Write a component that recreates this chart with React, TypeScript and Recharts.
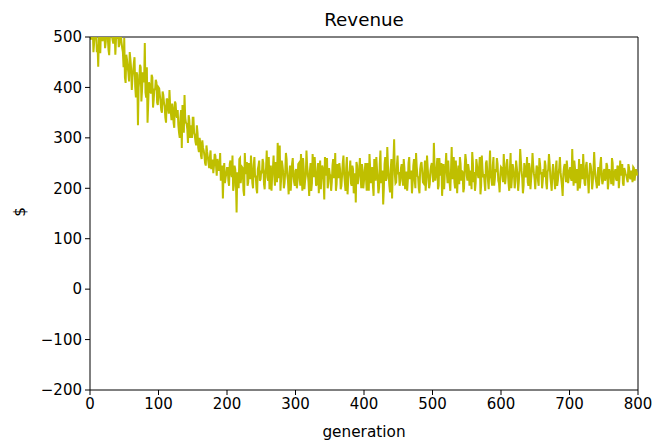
import React from 'react';
import { LineChart, Line, XAxis, YAxis, ReferenceLine } from 'recharts';

// Revenue at even generations (0, 2, 4, ... 798)
const even0to50 = [510, 495, 520, 488, 505, 470, 441, 500, 515, 492, 506, 478, 520, 498, 464, 510, 502, 487, 512, 496, 505, 480, 515, 490, 470, 498];
const even50to100 = [409, 455, 430, 470, 438, 420, 448, 402, 430, 325, 415, 440, 395, 420, 488, 380, 330, 410, 392, 425, 360, 398, 415, 370, 400];
const even100to150 = [385, 355, 392, 370, 340, 378, 360, 395, 350, 368, 330, 372, 345, 355, 310, 340, 280, 350, 385, 330, 318, 345, 300, 325, 340];
const even150to200 = [310, 292, 325, 280, 300, 265, 295, 275, 250, 285, 262, 240, 275, 255, 230, 268, 245, 258, 235, 270, 228, 180, 250, 222, 240];
const even200to250 = [215, 248, 230, 265, 205, 238, 152, 225, 258, 210, 242, 196, 270, 228, 205, 250, 218, 238, 200, 262, 225, 190, 245, 215, 235];
const even250to300 = [258, 208, 232, 275, 215, 198, 245, 228, 265, 205, 240, 290, 220, 195, 255, 232, 210, 270, 225, 188, 245, 218, 260, 212, 235];
const even300to350 = [200, 248, 222, 268, 195, 238, 215, 275, 228, 185, 250, 210, 242, 262, 205, 230, 190, 255, 222, 240, 178, 235, 260, 212, 228];
const even350to400 = [195, 245, 220, 270, 208, 232, 250, 198, 226, 265, 212, 240, 188, 230, 255, 205, 238, 218, 172, 245, 225, 260, 200, 235, 215];
const even400to450 = [250, 195, 228, 268, 210, 242, 185, 235, 262, 220, 200, 275, 230, 168, 248, 215, 282, 225, 192, 258, 237, 297, 210, 245, 228];
const even450to500 = [205, 240, 222, 258, 198, 233, 215, 262, 228, 190, 245, 218, 270, 225, 200, 238, 252, 212, 230, 195, 265, 222, 208, 245, 228];
const even500to550 = [290, 215, 240, 198, 260, 225, 185, 248, 232, 270, 210, 228, 195, 282, 238, 212, 255, 190, 245, 262, 215, 232, 200, 268, 225];
const even550to600 = [248, 205, 235, 272, 212, 195, 258, 228, 240, 188, 265, 222, 210, 250, 232, 198, 275, 218, 245, 205, 238, 260, 215, 192, 242];
const even600to650 = [225, 268, 208, 248, 232, 195, 270, 220, 240, 200, 255, 228, 212, 278, 235, 190, 250, 222, 262, 205, 240, 218, 270, 230, 198];
const even650to700 = [245, 215, 260, 228, 200, 238, 255, 210, 232, 268, 222, 195, 248, 215, 240, 205, 230, 262, 218, 185, 242, 225, 255, 210, 235];
const even700to750 = [220, 278, 205, 240, 228, 195, 258, 215, 235, 268, 210, 245, 225, 190, 250, 232, 212, 272, 220, 200, 242, 228, 262, 208, 235];
const even750to800 = [215, 250, 198, 238, 225, 260, 205, 232, 218, 245, 200, 255, 225, 210, 240, 228, 218, 248, 222, 235, 212, 240, 228, 232];

// Revenue at odd generations (1, 3, 5, ... 799)
const odd0to50 = [498, 515, 470, 505, 512, 485, 500, 468, 518, 495, 505, 490, 512, 475, 500, 520, 494, 508, 465, 498, 512, 485, 505, 478, 440];
const odd50to100 = [420, 465, 440, 412, 455, 395, 432, 460, 380, 425, 400, 445, 372, 430, 410, 390, 440, 368, 405, 388, 420, 375, 395, 410, 365];
const odd100to150 = [398, 372, 350, 385, 362, 330, 375, 348, 365, 335, 358, 320, 368, 340, 325, 300, 355, 365, 310, 340, 328, 290, 335, 312, 300];
const odd150to200 = [340, 305, 285, 310, 272, 290, 258, 280, 265, 245, 272, 250, 262, 238, 255, 245, 265, 225, 250, 240, 215, 245, 232, 210, 228];
const odd200to250 = [240, 205, 255, 222, 195, 245, 215, 232, 200, 260, 225, 240, 185, 235, 252, 212, 228, 265, 210, 245, 222, 200, 238, 255, 218];
const odd250to300 = [230, 250, 198, 240, 222, 262, 210, 195, 238, 225, 252, 212, 240, 285, 218, 245, 200, 232, 258, 215, 228, 195, 248, 225, 205];
const odd300to350 = [238, 215, 250, 205, 232, 260, 198, 225, 245, 212, 235, 195, 268, 222, 240, 208, 250, 230, 198, 245, 215, 262, 225, 200, 240];
const odd350to400 = [225, 212, 258, 232, 195, 248, 220, 238, 205, 250, 228, 195, 262, 218, 235, 210, 245, 190, 230, 252, 208, 235, 222, 248, 200];
const odd400to450 = [232, 218, 250, 195, 240, 225, 205, 258, 215, 238, 190, 248, 210, 235, 200, 262, 220, 245, 205, 238, 180, 255, 228, 212, 265];
const odd450to500 = [232, 215, 248, 205, 240, 225, 195, 250, 218, 235, 210, 258, 200, 242, 222, 190, 248, 232, 210, 255, 218, 240, 200, 235, 250];
const odd500to550 = [212, 245, 225, 260, 205, 238, 250, 215, 198, 242, 228, 255, 210, 235, 218, 262, 200, 232, 225, 208, 248, 235, 192, 240, 255];
const odd550to600 = [215, 238, 225, 198, 250, 232, 210, 245, 220, 262, 205, 238, 228, 195, 255, 215, 240, 225, 205, 262, 218, 232, 248, 210, 228];
const odd600to650 = [240, 212, 235, 222, 258, 210, 238, 200, 248, 225, 215, 242, 195, 235, 255, 220, 205, 240, 228, 212, 250, 198, 235, 245, 218];
const odd650to700 = [225, 240, 205, 248, 232, 215, 222, 245, 198, 238, 250, 210, 232, 225, 198, 255, 215, 240, 232, 205, 228, 248, 212, 238, 222];
const odd700to750 = [242, 215, 232, 255, 210, 238, 225, 200, 248, 218, 235, 205, 252, 215, 228, 245, 198, 235, 240, 212, 225, 205, 248, 222, 215];
const odd750to800 = [238, 222, 245, 212, 230, 208, 250, 225, 238, 215, 242, 220, 232, 248, 205, 235, 225, 212, 240, 218, 228, 242, 215, 238, 225];

const evenRevenue = [
  ...even0to50, ...even50to100, ...even100to150, ...even150to200,
  ...even200to250, ...even250to300, ...even300to350, ...even350to400,
  ...even400to450, ...even450to500, ...even500to550, ...even550to600,
  ...even600to650, ...even650to700, ...even700to750, ...even750to800,
];
const oddRevenue = [
  ...odd0to50, ...odd50to100, ...odd100to150, ...odd150to200,
  ...odd200to250, ...odd250to300, ...odd300to350, ...odd350to400,
  ...odd400to450, ...odd450to500, ...odd500to550, ...odd550to600,
  ...odd600to650, ...odd650to700, ...odd700to750, ...odd750to800,
];

const xTicks = [0, 100, 200, 300, 400, 500, 600, 700, 800];
const yTicks = [-200, -100, 0, 100, 200, 300, 400, 500];

const data: { generation: number; revenue: number }[] = [];
for (let i = 0; i < evenRevenue.length; i++) {
  data.push({ generation: 2 * i, revenue: evenRevenue[i] });
  if (i < oddRevenue.length) data.push({ generation: 2 * i + 1, revenue: oddRevenue[i] });
}

const FONT = '"DejaVu Sans", sans-serif';
const tickStyle = { fontFamily: FONT, fontSize: 15, fill: '#000' };
const fmt = (v: number) => (v < 0 ? '\u2212' + Math.abs(v) : String(v));

export default function App() {
  return (
    <div style={{ position: 'relative', width: 654, height: 445, fontFamily: FONT }}>
      <style>{'body{margin:0}'}</style>
      <div style={{ position: 'absolute', left: 164, width: 400, top: 9, textAlign: 'center', fontSize: 18.3, color: '#000' }}>
        Revenue
      </div>
      <div style={{ position: 'absolute', left: 264, width: 200, top: 423, textAlign: 'center', fontSize: 15.3, color: '#000' }}>
        generation
      </div>
      <div style={{ position: 'absolute', left: 15, top: 203, fontSize: 15.3, color: '#000', transform: 'rotate(-90deg)', transformOrigin: 'center' }}>
        $
      </div>
      <LineChart width={654} height={445} data={data} margin={{ top: 37, right: 16, bottom: 10, left: 0 }} style={{ overflow: 'visible' }}>
        <XAxis
          dataKey="generation"
          type="number"
          domain={[0, 800]}
          ticks={xTicks}
          tick={tickStyle}
          tickSize={5}
          tickMargin={3}
          height={45}
          stroke="#000"
          allowDataOverflow
        />
        <YAxis
          type="number"
          domain={[-200, 500]}
          ticks={yTicks}
          tick={tickStyle}
          tickFormatter={fmt}
          tickSize={5}
          tickMargin={3}
          width={90}
          stroke="#000"
          allowDataOverflow
        />
        <ReferenceLine y={500} stroke="#000" strokeWidth={1} />
        <ReferenceLine x={800} stroke="#000" strokeWidth={1} />
        <Line
          type="linear"
          dataKey="revenue"
          stroke="#bfbf00"
          strokeWidth={2}
          dot={false}
          isAnimationActive={false}
        />
      </LineChart>
    </div>
  );
}
